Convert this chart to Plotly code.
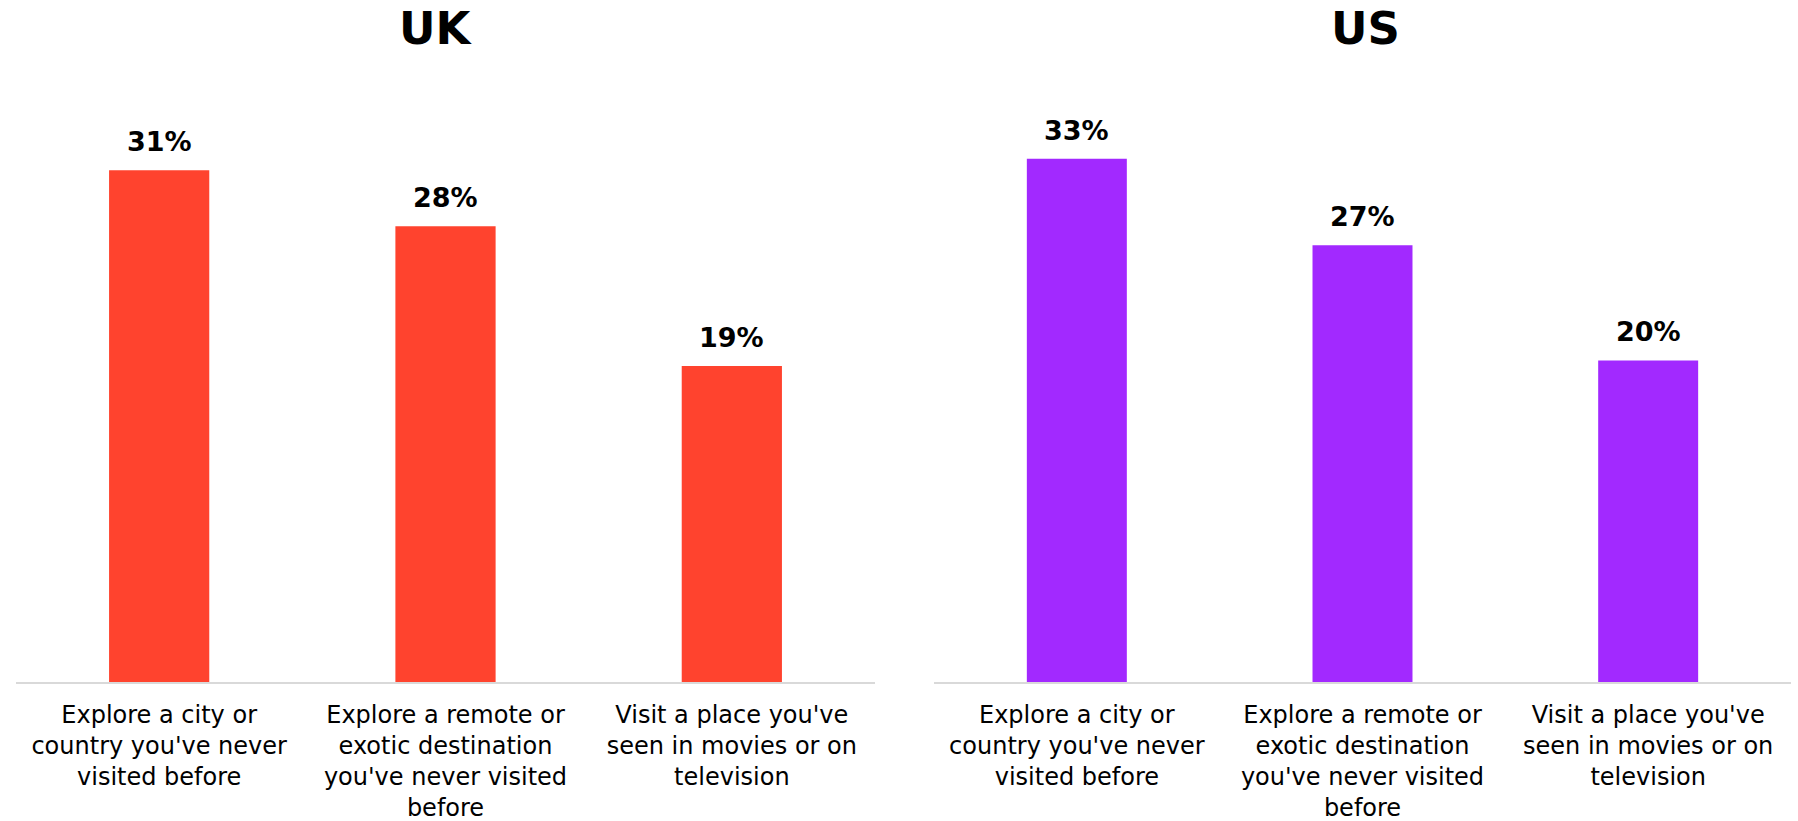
import plotly.graph_objects as go
from plotly.subplots import make_subplots

categories = [
    "Explore a city or<br>country you've never<br>visited before",
    "Explore a remote or<br>exotic destination<br>you've never visited<br>before",
    "Visit a place you've<br>seen in movies or on<br>television",
]
panel_titles = ["UK", "US"]
uk_values = [31.1, 27.7, 19.2]
us_values = [32.7, 27.3, 20.1]
uk_labels = ["31%", "28%", "19%"]
us_labels = ["33%", "27%", "20%"]
colors = ["#FF432E", "#A229FF"]

# body margin removed below, so page coordinates == paper coordinates
W, H = 1798, 821


def px(x):
    return x / W


def py(y):
    return 1 - y / H


fig = make_subplots(rows=1, cols=2)

series = [(uk_values, uk_labels), (us_values, us_labels)]
xdoms = [[px(16), px(875)], [px(934), px(1791)]]
ranges = [[0, 35.0], [0, 36.0]]
ydom = [py(682), py(106)]
xcats = ["c0", "c1", "c2"]
FONT = "DejaVu Sans, sans-serif"

for i, (vals, labs) in enumerate(series):
    fig.add_trace(
        go.Bar(x=xcats, y=vals, width=0.35, marker=dict(color=colors[i], line=dict(width=0)),
               showlegend=False, hoverinfo="skip"),
        row=1, col=i + 1,
    )
    xa = "x" if i == 0 else "x2"
    ya = "y" if i == 0 else "y2"
    for c, v, t in zip(xcats, vals, labs):
        fig.add_annotation(x=c, y=v, xref=xa, yref=ya, text="<b>%s</b>" % t,
                           showarrow=False, yanchor="bottom", yshift=11,
                           font=dict(family=FONT, size=27, color="#000000"))
    fig.add_annotation(x=px([436, 1365][i]), y=1, xref="paper", yref="paper",
                       text="<b>%s</b>" % panel_titles[i], showarrow=False,
                       xanchor="center", yanchor="top",
                       font=dict(family=FONT, size=45, color="#000000"))

for i in range(2):
    fig.update_xaxes(domain=xdoms[i], tickmode="array", tickvals=xcats, ticktext=categories,
                     showline=True, linecolor="#D9D9D9", linewidth=2, ticks="",
                     ticklabelstandoff=10, automargin=False,
                     tickfont=dict(family=FONT, size=24, color="#000000"),
                     range=[-0.5, 2.5], showgrid=False, zeroline=False, row=1, col=i + 1)
    fig.update_yaxes(domain=ydom, range=ranges[i], showticklabels=False, showline=False,
                     automargin=False,
                     showgrid=False, zeroline=False, row=1, col=i + 1)

fig.update_layout(
    width=W, height=H,
    margin=dict(l=0, r=0, t=0, b=0, autoexpand=False),
    paper_bgcolor="#FFFFFF", plot_bgcolor="#FFFFFF",
)

fig.write_html("out.html",
               config={"displayModeBar": False},
               post_script="document.body.style.margin='0';document.body.style.overflow='hidden';")
